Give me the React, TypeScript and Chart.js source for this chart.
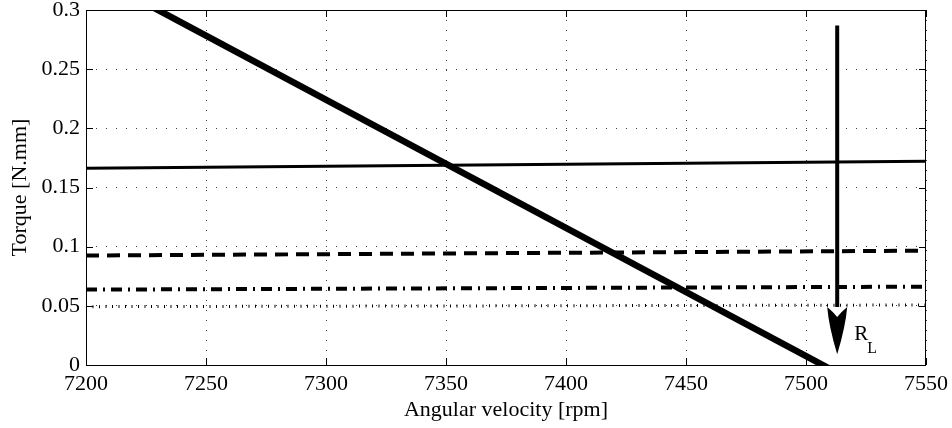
import React, { useEffect, useRef } from "react";
import { Chart, registerables } from "chart.js";

Chart.register(...registerables);

// ---- data ----
const speedRange = [7200, 7550];
const loadSolid = [0.1662, 0.1722];
const loadDashed = [0.0925, 0.0966];
const loadDashDot = [0.0637, 0.0662];
const loadDotted = [0.0493, 0.0507];
const motorSpeed = [7225, 7510];
const motorTorque = [0.3054, -0.0033];
const arrowX = 7513;
const arrowTop = 0.287;
const arrowHeadTop = 0.049;
const arrowTip = 0.009;
const arrowLabel = "R";
const arrowLabelSub = "L";
const xTickValues = [7200, 7250, 7300, 7350, 7400, 7450, 7500, 7550];
const yTickValues = [0, 0.05, 0.1, 0.15, 0.2, 0.25, 0.3];
const xTitle = "Angular velocity [rpm]";
const yTitle = "Torque [N.mm]";

const FONT = "'Liberation Serif', 'DejaVu Serif', serif";

const pts = (xs: number[], ys: number[]) => xs.map((x, i) => ({ x, y: ys[i] }));

const zeroPad = (s: any) => {
  s.paddingTop = 0;
  s.paddingBottom = 0;
  s.paddingLeft = 0;
  s.paddingRight = 0;
};

const framePlugin = {
  id: "frameAndArrow",
  afterDatasetsDraw(chart: any) {
    const { ctx, chartArea: a, scales } = chart;
    const xs = scales.x;
    const ys = scales.y;
    ctx.save();
    // frame
    ctx.strokeStyle = "#000";
    ctx.lineWidth = 1;
    ctx.setLineDash([]);
    ctx.strokeRect(Math.round(a.left) + 0.5, Math.round(a.top) + 0.5, Math.round(a.right - a.left) - 1, Math.round(a.bottom - a.top));
    // inward ticks
    ctx.beginPath();
    xTickValues.forEach((v) => {
      const px = Math.round(xs.getPixelForValue(v)) + 0.5;
      ctx.moveTo(px, a.bottom);
      ctx.lineTo(px, a.bottom - 7);
      ctx.moveTo(px, a.top);
      ctx.lineTo(px, a.top + 7);
    });
    yTickValues.forEach((v) => {
      const py = Math.round(ys.getPixelForValue(v)) + 0.5;
      ctx.moveTo(a.left, py);
      ctx.lineTo(a.left + 7, py);
      ctx.moveTo(a.right, py);
      ctx.lineTo(a.right - 7, py);
    });
    ctx.stroke();
    // arrow head
    const x = xs.getPixelForValue(arrowX);
    const yTop = ys.getPixelForValue(arrowHeadTop);
    const yTip = ys.getPixelForValue(arrowTip);
    const hw = 10;
    ctx.fillStyle = "#000";
    ctx.beginPath();
    ctx.moveTo(x, yTip);
    ctx.quadraticCurveTo(x - hw * 0.85, yTop + (yTip - yTop) * 0.4, x - hw, yTop);
    ctx.quadraticCurveTo(x - hw * 0.5, yTop + 4, x, yTop + 10);
    ctx.quadraticCurveTo(x + hw * 0.5, yTop + 4, x + hw, yTop);
    ctx.quadraticCurveTo(x + hw * 0.85, yTop + (yTip - yTop) * 0.4, x, yTip);
    ctx.closePath();
    ctx.fill();
    // label
    ctx.textBaseline = "alphabetic";
    ctx.textAlign = "left";
    ctx.font = `21px ${FONT}`;
    const lx = x + 17;
    const ly = yTip - 14;
    ctx.fillText(arrowLabel, lx, ly);
    const rw = ctx.measureText(arrowLabel).width;
    ctx.font = `16px ${FONT}`;
    ctx.fillText(arrowLabelSub, lx + rw - 1, ly + 13);
    ctx.restore();
  },
};

export default function App() {
  const ref = useRef<HTMLCanvasElement | null>(null);
  useEffect(() => {
    if (!ref.current) return;
    const lineDs = (label: string, ys: number[], width: number, dash: number[]) => ({
      label,
      data: pts(speedRange, ys),
      borderColor: "#000",
      borderWidth: width,
      borderDash: dash,
      pointRadius: 0,
      fill: false,
      tension: 0,
      clip: 0,
    });
    const chart = new Chart(ref.current, {
      type: "line",
      data: {
        datasets: [
          lineDs("solid", loadSolid, 3, []),
          lineDs("dashed", loadDashed, 4, [13, 8]),
          lineDs("dashdot", loadDashDot, 4, [11, 6, 2, 6]),
          lineDs("dotted", loadDotted, 3, [1, 5.5]),
          {
            label: "motor",
            data: pts(motorSpeed, motorTorque),
            borderColor: "#000",
            borderWidth: 6.5,
            pointRadius: 0,
            fill: false,
            tension: 0,
            clip: 0,
          },
          {
            label: "arrow",
            data: pts([arrowX, arrowX], [arrowTop, arrowHeadTop]),
            borderColor: "#000",
            borderWidth: 4,
            pointRadius: 0,
            fill: false,
            tension: 0,
            clip: 0,
          },
        ],
      } as any,
      options: {
        animation: false,
        responsive: false,
        layout: { padding: { top: 10, right: 26, bottom: 0, left: 0 } },
        plugins: { legend: { display: false }, tooltip: { enabled: false } },
        scales: {
          x: {
            type: "linear",
            min: speedRange[0],
            max: speedRange[1],
            afterFit: (s: any) => {
              s.height = 63;
              zeroPad(s);
            },
            afterBuildTicks: (s: any) => {
              s.ticks = xTickValues.map((v) => ({ value: v }));
            },
            ticks: {
              padding: 6,
              color: "#000",
              font: { family: FONT, size: 22 },
              callback: (v: any) => String(v),
              maxRotation: 0,
            },
            grid: {
              drawTicks: false,
              color: "rgba(0,0,0,0.75)",
              lineWidth: 1,
            },
            border: { display: false, dash: [1, 9] },
            title: {
              display: true,
              text: xTitle,
              color: "#000",
              font: { family: FONT, size: 22 },
              padding: { top: 0, bottom: 5 },
            },
          },
          y: {
            type: "linear",
            min: 0,
            max: 0.3,
            afterFit: (s: any) => {
              s.width = 86;
              zeroPad(s);
            },
            afterBuildTicks: (s: any) => {
              s.ticks = yTickValues.map((v) => ({ value: v }));
            },
            ticks: {
              padding: 6,
              color: "#000",
              font: { family: FONT, size: 22 },
              callback: (v: any) => String(+Number(v).toFixed(2)),
            },
            grid: {
              drawTicks: false,
              color: "rgba(0,0,0,0.75)",
              lineWidth: 1,
            },
            border: { display: false, dash: [1, 9] },
            title: {
              display: true,
              text: yTitle,
              color: "#000",
              font: { family: FONT, size: 22 },
              padding: { top: 7, bottom: 0 },
            },
          },
        },
      } as any,
      plugins: [framePlugin],
    });
    return () => chart.destroy();
  }, []);
  return (
    <div style={{ position: "fixed", left: 0, top: 0, width: 952, height: 428, background: "#fff" }}>
      <canvas ref={ref} width={952} height={428} style={{ width: 952, height: 428, display: "block" }} />
    </div>
  );
}
